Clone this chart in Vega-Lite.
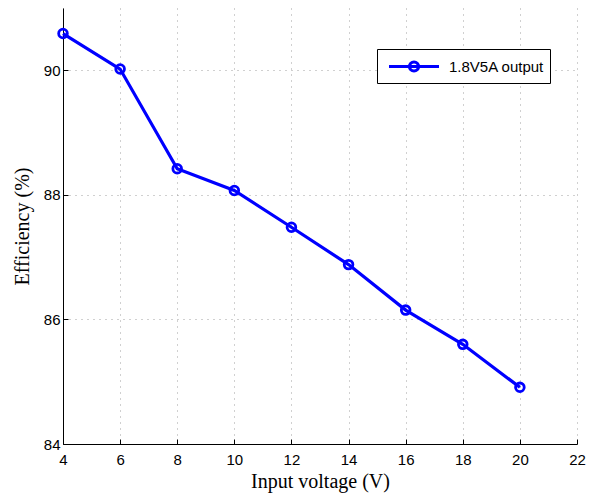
{
  "$schema": "https://vega.github.io/schema/vega-lite/v6.json",
  "width": 514,
  "height": 436,
  "autosize": "none",
  "padding": {"left": 63, "top": 8, "right": 20, "bottom": 51},
  "background": "white",
  "data": {
    "values": [
      {"v": 4, "eff": 90.59, "s": "1.8V5A output"},
      {"v": 6, "eff": 90.02, "s": "1.8V5A output"},
      {"v": 8, "eff": 88.42, "s": "1.8V5A output"},
      {"v": 10, "eff": 88.07, "s": "1.8V5A output"},
      {"v": 12, "eff": 87.48, "s": "1.8V5A output"},
      {"v": 14, "eff": 86.88, "s": "1.8V5A output"},
      {"v": 16, "eff": 86.15, "s": "1.8V5A output"},
      {"v": 18, "eff": 85.6, "s": "1.8V5A output"},
      {"v": 20, "eff": 84.91, "s": "1.8V5A output"}
    ]
  },
  "config": {
    "view": {"stroke": null},
    "axis": {
      "domainColor": "black",
      "domainWidth": 1,
      "tickColor": "black",
      "tickSize": -5,
      "labelFont": "Liberation Sans",
      "labelFontSize": 15,
      "labelColor": "black",
      "titleFont": "Liberation Serif",
      "titleFontSize": 20,
      "titleFontWeight": "normal",
      "titleColor": "black",
      "gridColor": "#a0a0a0",
      "gridDash": [1, 5],
      "gridWidth": 1
    }
  },
  "mark": {"type": "line", "strokeWidth": 3.2, "color": "#0000ff", "point": {"shape": "circle", "size": 75, "filled": false, "strokeWidth": 2.8, "color": "#0000ff"}},
  "encoding": {
    "x": {
      "field": "v", "type": "quantitative",
      "scale": {"domain": [4, 22], "nice": false, "zero": false},
      "axis": {"values": [4, 6, 8, 10, 12, 14, 16, 18, 20, 22], "title": "Input voltage (V)", "labelPadding": 13, "titlePadding": 4, "labelFlush": false}
    },
    "y": {
      "field": "eff", "type": "quantitative",
      "scale": {"domain": [84, 91], "nice": false, "zero": false},
      "axis": {"values": [84, 86, 88, 90], "title": "Efficiency (%)", "labelPadding": 8, "titlePadding": 11, "labelFlush": false}
    },
    "color": {
      "field": "s", "type": "nominal",
      "scale": {"range": ["#0000ff"]},
      "legend": {
        "title": null,
        "orient": "none",
        "legendX": 314,
        "legendY": 41,
        "strokeColor": "black",
        "fillColor": "white",
        "padding": 5,
        "symbolType": "M-2.38,0H2.38M0.43,0A0.43,0.43 0 1,1 -0.43,0A0.43,0.43 0 1,1 0.43,0",
        "symbolSize": 441,
        "symbolOffset": 19.5,
        "symbolStrokeWidth": 3.2,
        "symbolFillColor": "transparent",
        "symbolStrokeColor": "#0000ff",
        "labelFont": "Liberation Sans",
        "labelFontSize": 15,
        "labelColor": "black",
        "labelOffset": 22.5
      }
    }
  }
}
